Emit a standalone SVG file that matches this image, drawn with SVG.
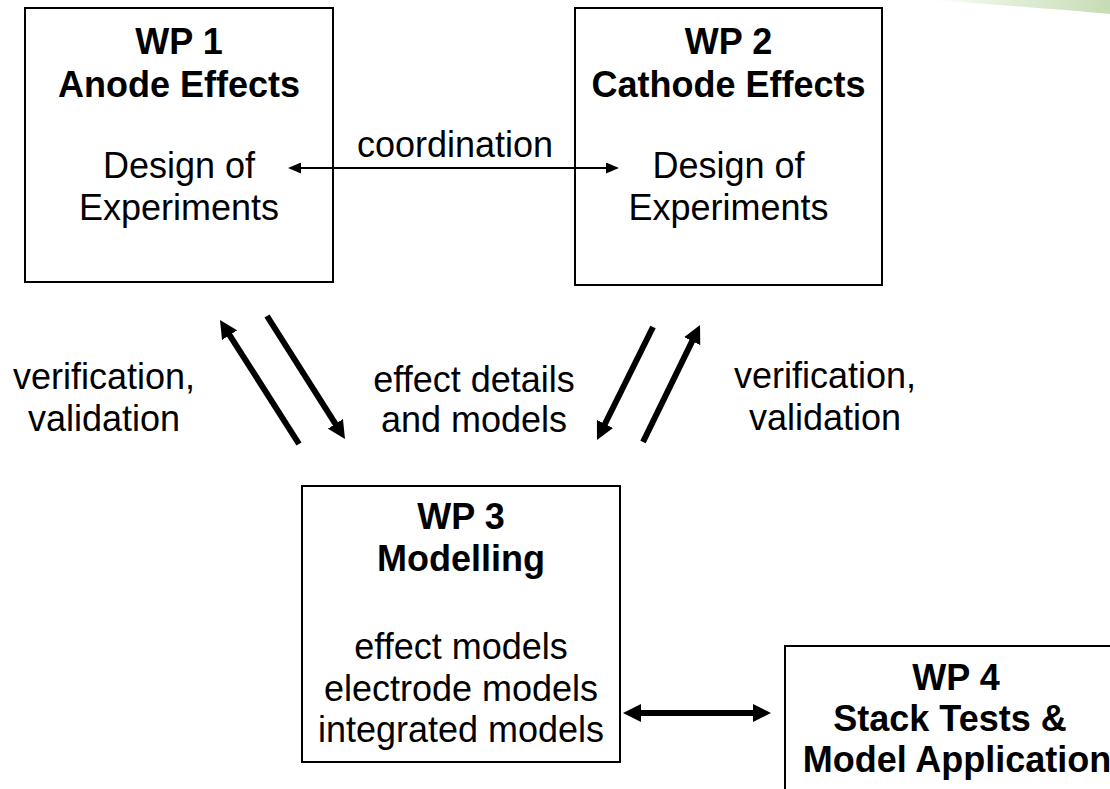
<svg xmlns="http://www.w3.org/2000/svg" width="1110" height="789" viewBox="0 0 1110 789">
  <style>
    .box { fill: #ffffff; stroke: #000000; stroke-width: 2; }
    .title { font-family: "Liberation Sans", Arial, sans-serif; font-size: 36px; font-weight: bold; fill: #000000; text-anchor: middle; }
    .body { font-family: "Liberation Sans", Arial, sans-serif; font-size: 36px; fill: #000000; text-anchor: middle; }
    .thin { stroke: #000000; stroke-width: 2; fill: none; }
    .thick { stroke: #000000; stroke-width: 6; fill: none; }
  </style>
  <defs>
    <linearGradient id="swoosh" x1="930" y1="0" x2="1110" y2="0" gradientUnits="userSpaceOnUse">
      <stop offset="0" stop-color="#d4e6c6" stop-opacity="0"/>
      <stop offset="0.45" stop-color="#d4e6c6" stop-opacity="0.7"/>
      <stop offset="1" stop-color="#c6dcb4"/>
    </linearGradient>
    <marker id="headThin" viewBox="0 0 13 11" refX="2" refY="5.5" markerWidth="13" markerHeight="11" markerUnits="userSpaceOnUse" orient="auto-start-reverse">
      <path d="M0,0 L13,5.5 L0,11 z" fill="#000000"/>
    </marker>
    <marker id="headThick" viewBox="0 0 18 18" refX="4" refY="9" markerWidth="18" markerHeight="18" markerUnits="userSpaceOnUse" orient="auto-start-reverse">
      <path d="M0,0 L18,9 L0,18 z" fill="#000000"/>
    </marker>
  </defs>

  <rect width="1110" height="789" fill="#ffffff"/>

  <!-- decorative band in the top-right corner -->
  <path d="M930,0 L1110,0 L1110,14 Q1030,7 930,0 z" fill="url(#swoosh)"/>

  <g id="wp1">
    <rect class="box" x="25" y="8" width="308" height="274"/>
    <text class="title" x="179" y="54">WP 1</text>
    <text class="title" x="179" y="97">Anode Effects</text>
    <text class="body" x="179" y="178">Design of</text>
    <text class="body" x="179" y="220">Experiments</text>
  </g>

  <g id="wp2">
    <rect class="box" x="575" y="8" width="307" height="277"/>
    <text class="title" x="728.5" y="54">WP 2</text>
    <text class="title" x="728.5" y="97">Cathode Effects</text>
    <text class="body" x="728.5" y="178">Design of</text>
    <text class="body" x="728.5" y="220">Experiments</text>
  </g>

  <g id="wp3">
    <rect class="box" x="302" y="486" width="318" height="276"/>
    <text class="title" x="461" y="529">WP 3</text>
    <text class="title" x="461" y="571">Modelling</text>
    <text class="body" x="461" y="659">effect models</text>
    <text class="body" x="461" y="701">electrode models</text>
    <text class="body" x="461" y="742">integrated models</text>
  </g>

  <g id="wp4">
    <path class="box" d="M1112,646 L785,646 L785,792" fill="none"/>
    <text class="title" x="956" y="690">WP 4</text>
    <text class="title" x="950" y="731">Stack Tests &amp;</text>
    <text class="title" x="957" y="772">Model Application</text>
  </g>

  <g id="connectors">
    <line class="thin" x1="299" y1="168" x2="608" y2="168" marker-start="url(#headThin)" marker-end="url(#headThin)"/>
    <line class="thick" x1="299" y1="444" x2="227.5" y2="331.8" marker-end="url(#headThick)"/>
    <line class="thick" x1="267" y1="316" x2="337.5" y2="427.2" marker-end="url(#headThick)"/>
    <line class="thick" x1="653" y1="327" x2="603.2" y2="427.5" marker-end="url(#headThick)"/>
    <line class="thick" x1="643" y1="442" x2="693.9" y2="337.6" marker-end="url(#headThick)"/>
    <line class="thick" x1="637" y1="713" x2="757" y2="713" marker-start="url(#headThick)" marker-end="url(#headThick)"/>
  </g>

  <g id="labels">
    <text class="body" x="455" y="157">coordination</text>
    <text class="body" x="104" y="389">verification,</text>
    <text class="body" x="104" y="431">validation</text>
    <text class="body" x="474" y="392">effect details</text>
    <text class="body" x="474" y="432">and models</text>
    <text class="body" x="825" y="388">verification,</text>
    <text class="body" x="825" y="430">validation</text>
  </g>
</svg>
